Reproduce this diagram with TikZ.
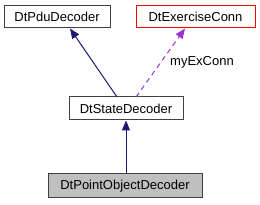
\documentclass[tikz,border=0pt]{standalone}
\usepackage{fontspec}
\setmainfont{Liberation Sans}
\usetikzlibrary{arrows.meta}
\definecolor{navyarrow}{HTML}{191970}
\definecolor{purplearrow}{HTML}{9A32CD}
\definecolor{boxgray}{HTML}{BFBFBF}
\tikzset{
  cls/.style={draw=black!75, line width=1pt, fill=white, inner sep=0pt,
    font=\fontsize{13}{15}\selectfont, anchor=center},
  inh/.style={draw=navyarrow, line width=1pt, -{Triangle[length=10pt,width=8pt]}},
  use/.style={draw=purplearrow, line width=1pt, dash pattern=on 5pt off 4pt,
    -{Triangle[length=10pt,width=8pt]}},
  lbl/.style={font=\fontsize{13}{15}\selectfont, inner sep=0pt, anchor=west}
}
\begin{document}
\begin{tikzpicture}[x=1pt,y=-1pt]
\useasboundingbox (0,0) rectangle (260,205);
\node[cls, minimum width=106pt, minimum height=22pt] (pdu) at (57,17) {DtPduDecoder};
\node[cls, draw=red, minimum width=119pt, minimum height=22pt] (exc) at (195.5,17) {DtExerciseConn};
\node[cls, minimum width=114pt, minimum height=23pt] (state) at (126,108.5) {DtStateDecoder};
\node[cls, fill=boxgray, minimum width=154pt, minimum height=24pt] (point) at (125,186) {DtPointObjectDecoder};
\coordinate (s1) at (117,97);
\coordinate (p1) at (70,28.5);
\coordinate (s2) at (136,97);
\coordinate (e1) at (185,28.5);
\draw[inh] (s1) -- (p1);
\draw[use] (s2) -- (e1);
\draw[inh] (point.north -| state.south) -- (state.south);
\node[lbl] (lab) at (170,62) {myExConn};
\end{tikzpicture}
\end{document}
